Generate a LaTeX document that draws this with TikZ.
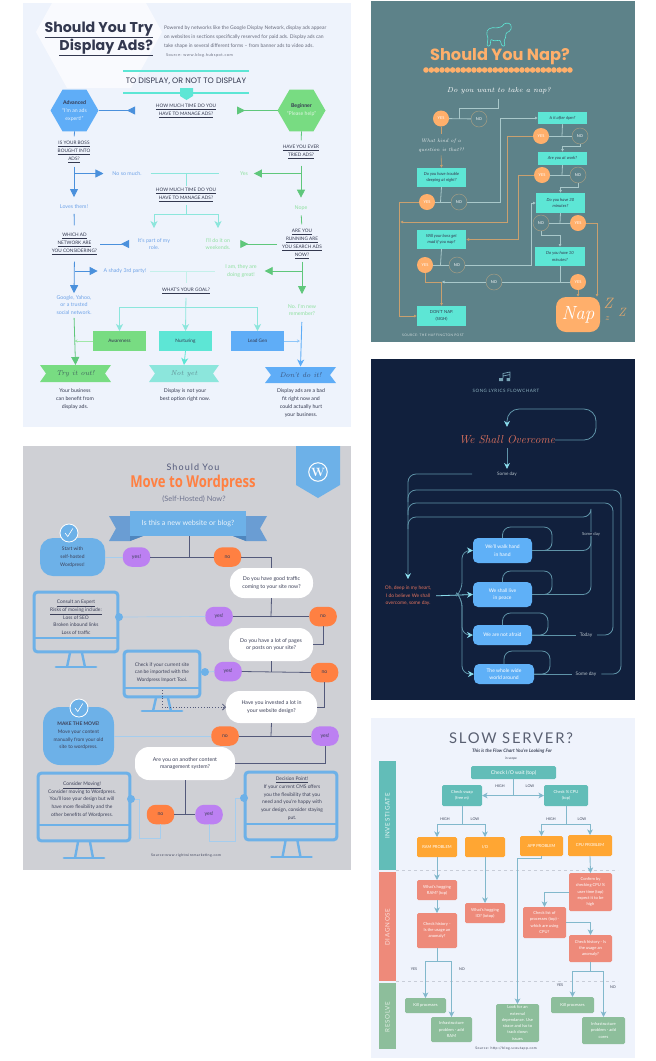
\documentclass[tikz,border=0pt]{standalone}
\usepackage{fontspec}
\setsansfont{Lato}
\renewcommand{\familydefault}{\sfdefault}
\newfontfamily\pop{Poppins}
\newfontfamily\narrowbold{Open Sans}[FakeStretch=0.8]
\newfontfamily\widefont{Lato}[LetterSpace=12]
\usetikzlibrary{arrows.meta,shapes.geometric}
\newcommand{\fsz}[2]{\fontsize{#1}{#2}\selectfont}
% panel colours
\definecolor{adsbg}{HTML}{EEF3FC}
\definecolor{adshex}{HTML}{F9FAFE}
\definecolor{adsdark}{HTML}{33384F}
\definecolor{adsblue}{HTML}{4A90DC}
\definecolor{adssky}{HTML}{5FADF7}
\definecolor{adstxtb}{HTML}{6FA3E8}
\definecolor{adsgreen}{HTML}{5FC77B}
\definecolor{adslime}{HTML}{78DC82}
\definecolor{adstxtg}{HTML}{8FE0A0}
\definecolor{adsteal}{HTML}{5DE6D5}
\definecolor{adsmint}{HTML}{8CE6DC}
\definecolor{adspale}{HTML}{C4F0EA}
\definecolor{wpbg}{HTML}{CFD0D5}
\definecolor{wpblue}{HTML}{6DB1E8}
\definecolor{wpribbon}{HTML}{6A9DD3}
\definecolor{wpfold}{HTML}{4E86BE}
\definecolor{wpdark}{HTML}{53597A}
\definecolor{wptxt}{HTML}{3C4058}
\definecolor{wporange}{HTML}{FF8042}
\definecolor{wppurple}{HTML}{BC80F2}
\definecolor{wppale}{HTML}{A5CDEE}
\definecolor{napbg}{HTML}{5D8289}
\definecolor{nappeach}{HTML}{FFAF6B}
\definecolor{napteal}{HTML}{5DE6D5}
\definecolor{napline}{HTML}{A9C8CA}
\definecolor{napbrown}{HTML}{C9A06F}
\definecolor{napring}{HTML}{A39C84}
\definecolor{songbg}{HTML}{11203D}
\definecolor{songline}{HTML}{5F93A8}
\definecolor{songtip}{HTML}{8ADCEC}
\definecolor{songred}{HTML}{E2735E}
\definecolor{songsky}{HTML}{5FB0F7}
\definecolor{songtxt}{HTML}{B8C4CC}
\definecolor{srvbg}{HTML}{EFF3FC}
\definecolor{srvteal}{HTML}{62BDB8}
\definecolor{srvsalmon}{HTML}{EE8A7A}
\definecolor{srvgreen}{HTML}{8DBE9B}
\definecolor{srvorange}{HTML}{FFA633}
\definecolor{srvline}{HTML}{82B8CC}
\definecolor{srvdash}{HTML}{C8CDD8}
\definecolor{srvtxt}{HTML}{3C4358}
\tikzset{
  wh/.style 2 args={minimum width=#1,minimum height=#2},
  % display ads
  adsq/.style={text=adsdark,font=\fsz{4.7}{7.9}},
  adsb/.style={text=adstxtb,font=\fsz{5.3}{7.9}},
  adsg/.style={text=adstxtg,font=\fsz{5.3}{7.9}},
  adsd/.style={text=adsdark,font=\fsz{5.2}{7.9}},
  bluetri/.style={adsblue,line width=.8pt,-{Triangle[length=8pt,width=8pt]}},
  greentri/.style={adsgreen,line width=.8pt,-{Triangle[length=8pt,width=8pt]}},
  backblue/.style={adsblue,line width=.8pt,-{Triangle[reversed,length=8pt,width=8pt]}},
  backgreen/.style={adsgreen,line width=.8pt,-{Triangle[reversed,length=8pt,width=8pt]}},
  mintarrow/.style={adsmint,line width=.8pt,-{Stealth[length=7pt,width=7pt,inset=2pt]}},
  goalbox/.style={wh={53}{20},text=adsdark,font=\fsz{4.7}{6}},
  bannertxt/.style={wh={71}{17},font=\rmfamily\itshape\fsz{7}{8}},
  % wordpress
  wpq/.style={text=wptxt,font=\fsz{4.9}{7.7}},
  askpill/.style={fill=white,rounded corners=14pt,text=wptxt,font=\fsz{5.3}{7.8}},
  pillno/.style={fill=wporange,rounded corners=9pt,wh={27.5}{19.5},text=wptxt,font=\fsz{5.2}{6}},
  pillyes/.style={fill=wppurple,rounded corners=9pt,wh={27.5}{19.5},text=wptxt,font=\fsz{5.2}{6}},
  wpbub/.style={fill=wpblue,text=wptxt,font=\fsz{4.9}{7.7}},
  wpdot/.style={circle,fill=wpblue,minimum size=8pt},
  wpcheck/.style={circle,fill=wpblue,draw=white,line width=.8pt,minimum size=18pt},
  wpdk/.style={wpdark,line width=.8pt},
  wppl/.style={wppale,line width=.7pt},
  % nap
  napb/.style={fill=napteal,text=adsdark,font=\itshape\fsz{4.2}{6.5}},
  napyes/.style={circle,fill=nappeach,minimum size=16pt,text=white,font=\fsz{3.9}{5}},
  napno/.style={circle,draw=napring,line width=.5pt,minimum size=16pt,text=white,font=\fsz{3.9}{5}},
  napw/.style={napline,line width=.8pt},
  napo/.style={napbrown,line width=.6pt},
  naptip/.style={-{Latex[length=3pt,width=3pt]}},
  % song
  songbox/.style={fill=songsky,rounded corners=5pt,text=white,font=\fsz{5}{7.5}},
  songl/.style={songline,line width=.8pt,rounded corners=8pt},
  songtipd/.style={-{Stealth[length=6pt,width=6pt,inset=2pt,color=songtip]}},
  % server
  srvb/.style={rounded corners=1.5pt,text=white,font=\fsz{4.1}{6.3}},
  srvl/.style={srvline,line width=.9pt},
  srvarrow/.style={srvline,line width=.9pt,-{Stealth[length=5.5pt,width=5.5pt,inset=1.5pt]}},
  srvhl/.style={text=srvtxt,font=\fsz{3.7}{5}},
}
% notched banner, corners then colour
\newcommand{\notchbar}[5]{\fill[#5] (#1,#2) -- (#3,#2) -- ({#3-6},{(#2+#4)/2}) -- (#3,#4) -- (#1,#4) -- ({#1+6},{(#2+#4)/2}) -- cycle;}
% monitor outline, left top right bottom divider standcentre baseline
\newcommand{\monitor}[7]{
  \draw[wpblue,line width=3pt,rounded corners=3pt] ({#1+1.2},{#2+1.2}) rectangle ({#3-1.2},{#4-1.2});
  \draw[wpblue,line width=2.2pt] (#1,#5) -- (#3,#5);
  \draw[wpblue,line width=2.4pt] ({#6-6},#4) -- ({#6-9},#7) ({#6+6},#4) -- ({#6+9},#7);
  \draw[wpblue,line width=2.8pt,line cap=round] ({#6-20},#7) -- ({#6+20},#7);
}
\begin{document}
\begin{tikzpicture}[x=1pt,y=-1pt,every node/.style={inner sep=0pt,outer sep=0pt,align=center}]
  \useasboundingbox (0,0) rectangle (656,1061);

  % ---- Display ads ----
  \fill[adsbg] (23,3) rectangle (351,427);
  \fill[adshex] (52,3) -- (36,32) -- (67,88) -- (131,88) -- (162,32) -- (146,3) -- cycle;
  \node[anchor=east,align=right,text=adsdark,font=\pop\bfseries\fsz{14.2}{18}] (adstitle) at (153,39)
    {\underline{Should You Try}\\\underline{Display Ads?}};
  \node[anchor=west,align=left,text=adsdark!75,font=\fsz{5}{9.1}] (adsintro) at (164,37)
    {Powered by networks like the Google Display Network, display ads appear\\
     on websites in sections specifically reserved for paid ads. Display ads can\\
     take shape in several different forms -- from banner ads to video ads.};
  \node[anchor=west,text=adsdark!75,font=\widefont\fsz{3.9}{5}] (adssource) at (166,55) {Source: www.blog.hubspot.com};
  \draw[adsteal,line width=1.6pt] (123,71) -- (249,71) (123,93) -- (249,93);
  \node[text=adsdark,font=\pop\fsz{7.9}{9}] (adshead) at (186,81) {TO DISPLAY, OR NOT TO DISPLAY};
  \fill[adsteal] (180,88) -- (193,88) -- (193,96) -- (186.5,100) -- (180,96) -- cycle;
  \node[adsq] (adsq1) at (186,111) {\underline{HOW MUCH TIME DO YOU}\\\underline{HAVE TO MANAGE ADS?}};

  \node[regular polygon,regular polygon sides=6,fill=adssky,minimum size=48pt] (hexadv) at (74.5,110.5) {};
  \node[font=\fsz{5.2}{8}] (advtxt) at (74.5,111) {\textcolor{adsdark}{\textbf{Advanced}}\\\textcolor{white!85!adssky}{``I'm an ads}\\\textcolor{white!85!adssky}{expert!''}};
  \node[regular polygon,regular polygon sides=6,fill=adslime,minimum size=48pt] (hexbeg) at (301.5,110.5) {};
  \node[font=\fsz{5.2}{8}] (begtxt) at (301.5,110.5) {\textcolor{adsdark}{\textbf{Beginner}}\\\textcolor{white!75!adslime}{``Please help''}};
  \draw[backblue] (hexadv.east) -- (135,110.5);
  \draw[backgreen] (hexbeg.west) -- (237,110.5);

  % left and right columns
  \node[adsq] (qboss) at (74,152) {\underline{IS YOUR BOSS}\\\underline{BOUGHT INTO}\\\underline{ADS?}};
  \node[adsq] (qever) at (301,152) {\underline{HAVE YOU EVER}\\\underline{TRIED ADS?}};
  \node[adsb] (nosomuch) at (127,173.5) {No so much.};
  \node[adsg] (adsyes) at (244,173.5) {Yes};
  \node[adsq] (qtime) at (186,195) {\underline{HOW MUCH TIME DO YOU}\\\underline{HAVE TO MANAGE ADS?}};
  \node[adsb] (loves) at (74,207) {Loves them!};
  \node[adsg] (nope) at (301,208) {Nope};
  \node[adsq] (qnet) at (74.5,244) {\underline{WHICH AD}\\\underline{NETWORK ARE}\\\underline{YOU CONSIDERING?}};
  \node[adsb] (itspart) at (154,244) {It's part of my\\role.};
  \node[adsg] (weekends) at (218,244) {I'll do it on\\weekends.};
  \node[adsq] (qrun) at (302,244) {\underline{ARE YOU}\\\underline{RUNNING ARE}\\\underline{YOU SEARCH ADS}\\\underline{NOW?}};
  \node[adsb] (shady) at (125,271) {A shady 3rd party!};
  \node[adsg] (great) at (241,271) {I am, they are\\doing great!};
  \node[adsq] (qgoal) at (186,291) {\underline{WHAT'S YOUR GOAL?}};
  \node[adsb] (google) at (74,305) {Google, Yahoo,\\or a trusted\\social network.};
  \node[adsg] (remember) at (302,310) {No. I'm new\\remember?};
  \node[goalbox,fill=adslime] (aware) at (119.5,341) {Awareness};
  \node[goalbox,fill=adsteal] (nurture) at (185.5,341) {Nurturing};
  \node[goalbox,fill=adssky] (leadgen) at (257.5,341) {Lead Gen};
  \notchbar{40}{365}{111}{382}{adslime}
  \notchbar{149}{365}{219}{382}{adsmint}
  \notchbar{265}{367}{336}{383}{adssky}
  \node[bannertxt,text=adsdark!70!adsgreen] (tryout) at (75.5,373.5) {Try it out!};
  \node[bannertxt,text=adsdark!50!adsmint,wh={70}{17}] (notyet) at (184,373.5) {Not yet};
  \node[bannertxt,text=adsdark!70!adsblue] (dontdo) at (300.5,375) {Don't do it!};
  \node[adsd] (res1) at (75,399) {Your business\\can benefit from\\display ads.};
  \node[adsd] (res2) at (185,395) {Display is not your\\best option right now.};
  \node[adsd] (res3) at (301,403) {Display ads are a bad\\fit right now and\\could actually hurt\\your business.};

  % connectors
  \coordinate (bossfork) at (74,173.5);
  \coordinate (everfork) at (301,173.5);
  \coordinate (timefork) at (186,173.5);
  \coordinate (splitfork) at (186,214.5);
  \coordinate (netfork) at (74.5,271);
  \coordinate (runfork) at (302,271);
  \coordinate (shadyfork) at (186,271);
  \coordinate (goalfork) at (186,307);
  \coordinate (greendrop) at (74.5,341);
  \coordinate (bluedrop) at (300,341);
  \draw[adsblue,line width=.8pt,shorten >=5pt] (hexadv.south) -- (qboss.north);
  \draw[adsgreen,line width=.8pt,shorten >=5pt] (hexbeg.south) -- (qever.north);
  \draw[bluetri,shorten <=4pt,shorten >=8pt] (qboss.south) -- (loves.north);
  \draw[bluetri,shorten >=9pt] (bossfork) -- (nosomuch.west);
  \draw[greentri,shorten <=7pt,shorten >=8pt] (qever.south) -- (nope.north);
  \draw[greentri,shorten >=6pt] (everfork) -- (adsyes.east);
  \draw[adsmint,line width=.8pt,shorten <=9pt,shorten >=21pt] (nosomuch.east) -- (adsyes.west);
  \draw[adsmint,line width=.8pt,shorten >=2pt] (timefork) -- (qtime.north);
  \draw[adsmint,line width=.8pt,shorten <=3pt] (qtime.south) -- (splitfork);
  \draw[mintarrow,shorten >=10pt] (splitfork) -| (itspart.north);
  \draw[mintarrow,shorten >=10pt] (splitfork) -| (weekends.north);
  \draw[adsblue,line width=.8pt,shorten <=5pt,shorten >=8pt] (loves.south) -- (qnet.north);
  \draw[adsgreen,line width=.8pt,shorten <=5pt,shorten >=5pt] (nope.south) -- (qrun.north);
  \draw[backblue,shorten <=3pt,shorten >=9pt] (qnet.east) -- (itspart.west);
  \draw[backgreen,shorten <=5pt,shorten >=10pt] (qrun.west) -- (weekends.east);
  \draw[bluetri,shorten <=7pt,shorten >=2pt] (qnet.south) -- (google.north);
  \draw[bluetri,shorten >=6pt] (netfork) -- (shady.west);
  \draw[greentri,shorten <=3pt,shorten >=10pt] (qrun.south) -- (remember.north);
  \draw[greentri,shorten >=8pt] (runfork) -- (great.east);
  \draw[adspale,line width=.8pt,shorten <=4pt,shorten >=10pt] (shady.east) -- (great.west);
  \draw[adspale,line width=.8pt,shorten >=5pt] (shadyfork) -- (qgoal.north);
  \draw[mintarrow,shorten <=4pt] (qgoal.south) -- (nurture.north);
  \draw[mintarrow] (goalfork) -| (aware.north);
  \draw[mintarrow] (goalfork) -| (leadgen.north);
  \draw[adslime!70!white,line width=.7pt,-{Stealth[length=3pt,width=3pt]}] (aware.west) -- (greendrop);
  \draw[greentri,shorten <=3pt] (google.south) -- (tryout.north);
  \draw[mintarrow,adsteal] (nurture.south) -- (notyet.north);
  \draw[adssky!70!white,line width=.7pt,-{Stealth[length=3pt,width=3pt]}] (leadgen.east) -- (bluedrop);
  \draw[adssky,line width=.9pt,-{Stealth[length=7pt,width=7pt,inset=2pt]},shorten <=6pt] (remember.south) -- (dontdo.north);

  % ---- Should you nap ----
  \fill[napbg] (371,1) rectangle (635,342);
  \draw[napteal,line width=.6pt,rounded corners=1pt] (487,35) .. controls (486,29) and (491,27) .. (497,28)
    .. controls (500,27) and (502,27) .. (503,25) .. controls (506,22) and (512,23) .. (511,28)
    .. controls (511,31) and (508,32) .. (506,33) .. controls (506,37) and (505,39) .. (504,40)
    -- (505,46) -- (502,46) -- (500,40) .. controls (497,41) and (493,41) .. (491,39)
    -- (490,46) -- (487,46) -- (488,38) -- cycle;
  \node[text=nappeach,font=\pop\bfseries\fsz{16.2}{18}] (naptitle) at (500,57) {Should You Nap?};
  \foreach \i in {0,...,27} \fill[nappeach] ({426+\i*5.33},70) circle (2.8pt);
  \node[text=white,font=\rmfamily\itshape\fsz{7.2}{10}] (napask) at (499,91) {Do you want to take a nap?};
  \node[napyes] (yes1) at (441,118.5) {YES};
  \node[napno] (no1) at (479,119) {NO};
  \node[text=white!85!napbg,font=\rmfamily\itshape\fsz{5.1}{9}] (napkind) at (441,145.5) {What kind of a\\question is that?!};
  \node[napb,wh={49}{19}] (trouble) at (441.5,177.5) {Do you have trouble\\sleeping at night?};
  \node[napyes] (yes2) at (427,202) {YES};
  \node[napno] (no2) at (459,202) {NO};
  \node[napb,wh={49}{12.5}] (sixpm) at (562.5,118) {Is it after 6pm?};
  \node[napyes] (yes3) at (541,136) {YES};
  \node[napno] (no3) at (580,136) {NO};
  \node[napb,wh={49}{13}] (atwork) at (562.5,158.5) {Are you at work?};
  \node[napyes] (yes4) at (542,175) {YES};
  \node[napno] (no4) at (578,175) {NO};
  \node[napb,wh={49}{20}] (thirty) at (560.5,203) {Do you have 30\\minutes?};
  \node[napno] (no5) at (541,223) {NO};
  \node[napyes] (yes5) at (578,223) {YES};
  \node[napb,wh={50}{19}] (ten) at (560,256.5) {Do you have 10\\minutes?};
  \node[napb,wh={49}{19}] (boss) at (441.5,239.5) {Will your boss get\\mad if you nap?};
  \node[napyes] (yes6) at (425,265) {YES};
  \node[napno] (no6) at (457,265) {NO};
  \node[napno] (no7) at (494,282) {NO};
  \node[napyes] (yes7) at (578,282) {YES};
  \node[napb,wh={49}{20},font=\fsz{4.2}{6.7}] (dontnap) at (441.5,316) {DON'T NAP.\\(SIGH)};
  \node[fill=nappeach,rounded corners=10pt,wh={44}{35},text=white,font=\rmfamily\itshape\fsz{19}{20}] (napbox) at (578,314.5) {Nap};
  \node[text=napbrown!50!nappeach,font=\rmfamily\itshape\fsz{15}{15}] (zed1) at (608,303) {Z};
  \node[text=napbrown!50!nappeach,font=\rmfamily\itshape\fsz{9}{9}] (zed2) at (607,319) {z};
  \node[text=napbrown!50!nappeach,font=\rmfamily\itshape\fsz{12}{12}] (zed3) at (622,312) {Z};
  \node[text=white!75!napbg,font=\widefont\fsz{3.3}{5}] (napsrc) at (433,335) {SOURCE: THE HUFFINGTON POST};

  \coordinate (napj1) at (459,118.5);
  \coordinate (napj2) at (440.5,202);
  \coordinate (napj3) at (562,136);
  \coordinate (napj4) at (562,175);
  \coordinate (napj5) at (560,223);
  \coordinate (napj6) at (440.5,265);
  \coordinate (napj7) at (441.5,282);
  \coordinate (napj8) at (560,282);
  \coordinate (napc1) at (500,202);
  \coordinate (napc2) at (507,222);
  \coordinate (napc3) at (400,222);
  \coordinate (napc4) at (399,202);
  \coordinate (napc5) at (518,175);
  \coordinate (napc6) at (531,265);
  \draw[napw] (napask.south) ++(-1,5) -- ++(0,9) -| (napj1);
  \draw[napw] (yes1) -- (no1);
  \draw[napo] (yes1.south) -- ++(0,7);
  \draw[napo,naptip,shorten <=3pt] (napkind.south) -- (trouble.north);
  \draw[napw] (trouble.south) -- (napj2);
  \draw[napw] (yes2) -- (no2);
  \draw[napw,naptip] (no2.east) -- (napc1) |- (sixpm.west);
  \draw[napw] (sixpm.south) -- (napj3);
  \draw[napw] (yes3) -- (no3);
  \draw[napo,naptip] (yes3.west) -| (napc2) -- (napc3);
  \draw[napo,naptip] (yes2.west) -- (napc4) |- (dontnap.west);
  \draw[napw,naptip] (no3.south) -- ++(0,2) -| (atwork.north);
  \draw[napw] (atwork.south) -- (napj4);
  \draw[napw] (yes4) -- (no4);
  \draw[napo,naptip] (yes4.west) -- (napc5) |- (boss.east);
  \draw[napw,naptip] (no4.south) -- ++(0,4) -| (thirty.north);
  \draw[napw] (thirty.south) -- (napj5);
  \draw[napw] (no5) -- (yes5);
  \draw[napo,naptip] (yes5.east) -| ([xshift=-3pt]napbox.north east);
  \draw[napw,naptip] (no5.south) -- ++(0,4) -| (ten.north);
  \draw[napw] (boss.south) -- (napj6);
  \draw[napw] (yes6) -- (no6);
  \draw[napw,naptip] (no6.east) -- (napc6) |- (thirty.west);
  \draw[napo] (yes6.south) |- (napj7);
  \draw[napo,naptip] (napj7) -- (dontnap.north);
  \draw[napw] (ten.south) -- (napj8);
  \draw[napw] (yes7.west) -- (no7.east);
  \draw[napw,naptip] (no7.west) -- (napj7);
  \draw[napo,naptip] (yes7.south) -- (napbox.north);

  % ---- Wordpress ----
  \fill[wpbg] (23,446) rectangle (351,870);
  \fill[wpblue] (296,446) -- (340,446) -- (340,485) -- (318,498) -- (296,485) -- cycle;
  \node[circle,draw=white,line width=1pt,minimum size=18.5pt,text=white,font=\rmfamily\bfseries\fsz{12}{12}] (wplogo) at (318,472) {W};
  \node[text=wpdark,font=\widefont\fsz{9}{10}] (wptop) at (193,467) {Should You};
  \node[text=wporange,font=\narrowbold\bfseries\fsz{16.4}{18}] (wptitle) at (193,483) {Move to Wordpress};
  \node[text=wpdark!85,font=\fsz{7.4}{9}] (wpsub) at (194,499) {(Self-Hosted) Now?};
  \fill[wpribbon] (109,516) -- (143,516) -- (143,536) -- (130,541) -- (109,541) -- (116,528.5) -- cycle;
  \fill[wpribbon] (267,516) -- (233,516) -- (233,536) -- (246,541) -- (267,541) -- (260,528.5) -- cycle;
  \fill[wpfold] (130,536) -- (143,536) -- (130,541) -- cycle;
  \fill[wpfold] (246,536) -- (233,536) -- (246,541) -- cycle;
  \node[fill=wpblue,wh={116}{25},text=white!85!wpblue,font=\fsz{7.2}{9}] (wpnew) at (188,523.5) {Is this a new website or blog?};

  \node[wpbub,rounded corners=13pt,wh={65}{38}] (wpstart) at (72.5,557) {Start with\\self-hosted\\Wordpress!};
  \node[wpcheck] (chk1) at (69,533) {};
  \draw[white,line width=.6pt] (chk1.center) ++(-4,0) -- ++(2.8,3.5) -- ++(5,-8);
  \node[pillyes] (wpy1) at (136.5,557) {yes!};
  \node[pillno] (wpn1) at (227.5,557) {no};
  \node[askpill,wh={83}{30}] (ask1) at (271.5,583) {Do you have good traffic\\coming to your site now?};
  \node[pillyes] (wpy2) at (219,616.5) {yes!};
  \node[pillno] (wpn2) at (323,616.5) {no};
  \node[askpill,wh={84}{33}] (ask2) at (271,644.5) {Do you have a lot of pages\\or posts on your site?};
  \node[pillyes] (wpy3) at (228,671.5) {yes!};
  \node[pillno] (wpn3) at (324.5,672.5) {no};
  \node[askpill,wh={91}{32}] (ask3) at (271.5,707) {Have you invested a lot in\\your website design?};
  \node[pillno] (wpn4) at (225,736) {no};
  \node[pillyes] (wpy4) at (325,736) {yes!};
  \node[askpill,wh={100}{33}] (ask4) at (185,763.5) {Are you on another content\\management system?};
  \node[pillno] (wpn5) at (160.5,814.5) {no};
  \node[pillyes] (wpy5) at (209,814.5) {yes!};
  \node[wpbub,rounded corners=17pt,wh={71}{58}] (wpmove) at (78.5,736) {\textbf{MAKE THE MOVE!}\\Move your content\\manually from your old\\site to  wordpress.};
  \node[wpcheck] (chk2) at (79,708) {};
  \draw[white,line width=.6pt] (chk2.center) ++(-4,0) -- ++(2.8,3.5) -- ++(5,-8);

  \monitor{33}{591}{119}{653}{638}{76}{667}
  \monitor{123}{650}{201}{698}{688}{162}{711}
  \monitor{37}{772}{131}{842}{825}{84}{858}
  \monitor{244}{771}{338}{841}{824}{291.5}{857}
  \node[wpq] (mon1) at (76,617.5) {\underline{Consult an Expert}\\\underline{Risks of moving include:}\\Loss of SEO\\Broken inbound links\\Loss of traffic};
  \node[wpq] (mon2) at (162,672.5) {Check if your current site\\can be imported with the\\Wordpress Import Tool.};
  \node[wpq] (mon3) at (82,799.5) {\underline{Consider Moving!}\\Consider moving to Wordpress.\\You'll lose your design but will\\have more flexibility  and the\\other benefits of Wordpress.};
  \node[wpq] (mon4) at (292,798.5) {\underline{Decision Point!}\\If your current CMS offers\\you the flexibility that you\\need and you're happy with\\your design, consider staying\\put.};
  \node[wpdot] (dot1) at (119,617) {};
  \node[wpdot] (dot2) at (205,672) {};
  \node[wpdot] (dot3) at (131,799) {};
  \node[wpdot] (dot4) at (244,798) {};
  \node[text=wptxt,font=\widefont\fsz{3.5}{5}] (wpsrc) at (186,856) {Source:www.rightwiremarketing.com};

  \coordinate (wpj1) at (189,557);
  \coordinate (wpj2) at (271,617);
  \coordinate (wpj3) at (271,672);
  \coordinate (wpj4) at (271,736);
  \coordinate (wpj5) at (185,814.5);
  \coordinate (wpdash) at (162,690);
  \draw[wppl] (wpstart.east) -- (wpy1.west);
  \draw[wpdk] (wpy1.east) -- (wpn1.west);
  \draw[wpdk] (wpnew.south -| wpj1) -- (wpj1);
  \draw[wpdk] (wpn1.east) -| (ask1.north);
  \draw[wpdk] (ask1.south) -- (wpj2);
  \draw[wpdk] (wpy2.east) -- (wpn2.west);
  \draw[wppl] (dot1) -- (wpy2.west);
  \draw[wpdk] (wpn2.south) |- (ask2.east);
  \draw[wpdk] (ask2.south) -- (wpj3);
  \draw[wpdk] (wpy3.east) -- (wpn3.west);
  \draw[wppl] (dot2) -- (wpy3.west);
  \draw[wpdk] (wpn3.south) |- (ask3.east);
  \draw[wpdk,dotted,-{Straight Barb[length=3pt]}] (wpdash) |- (ask3.west);
  \draw[wpdk] (ask3.south) -- (wpj4);
  \draw[wpdk] (wpn4.east) -- (wpy4.west);
  \draw[wppl] (wpmove.east) -- (wpn4.west);
  \draw[wpdk] (wpy4.south) |- (ask4.east);
  \draw[wpdk] (ask4.south) -- (wpj5);
  \draw[wpdk] (wpn5.east) -- (wpy5.west);
  \draw[wppl] (dot3) -| ++(8,39) -| (wpn5.south);
  \draw[wppl] (dot4) -| ++(-9,43) -| (wpy5.south);

  % ---- Song lyrics ----
  \fill[songbg] (371,359) rectangle (635,700);
  \fill[songline!85!white] (499,378) rectangle (503,381) (506.5,378) rectangle (510,381);
  \draw[songline!85!white,line width=.7pt] (503,378) -- (503,373.5) -- (510,372) -- (510,378) (503,376) -- (510,374.5);
  \node[text=songline!70!white,font=\widefont\fsz{4.5}{5}] (songhead) at (506,391) {SONG LYRICS FLOWCHART};
  \node[text=songred,font=\rmfamily\itshape\fsz{11.5}{12}] (wso) at (507,440) {We Shall Overcome};
  \node[text=songtxt,font=\fsz{4.6}{6}] (someday) at (507,474) {Some day};
  \node[text=songred,font=\fsz{4.9}{7.6}] (deep) at (408,596) {Oh, deep in my heart,\\I do believe We shall\\overcome, some day.};
  \node[songbox,wh={59}{25}] (walk) at (502.5,550.5) {We'll walk hand\\in hand};
  \node[songbox,wh={59}{25}] (peace) at (502.5,594.5) {We shall live\\in peace};
  \node[songbox,wh={59}{20}] (afraid) at (502.5,635) {We are not afraid};
  \node[songbox,wh={60}{20}] (world) at (504,674) {The whole wide\\world around};
  \node[text=songtxt,font=\fsz{4.2}{6}] (dayone) at (591,534) {Some day};
  \node[text=songtxt,font=\fsz{4.8}{6}] (today) at (586,635) {Today};
  \node[text=songtxt,font=\fsz{4.8}{6}] (daytwo) at (586,674) {Some day};

  \coordinate (songr) at (596,409);
  \coordinate (outer1) at (621,490);
  \coordinate (outer2) at (613,503);
  \coordinate (outer3) at (591,517);
  \coordinate (merge1) at (408,502);
  \coordinate (merge2) at (408,515);
  \coordinate (merge3) at (408,529);
  \coordinate (loop1) at (552,527);
  \coordinate (loop2) at (552,571);
  \coordinate (loop3) at (548,613);
  \coordinate (loop4) at (550,651);
  \coordinate (songfork) at (458,594.5);
  \draw[songl,songtipd,rounded corners=12pt,shorten >=9pt] (wso.east) -| (songr) -| (wso.north);
  \draw[songl,songtipd,shorten <=4pt,shorten >=3pt] (wso.south) -- (someday.north);
  \draw[songl,songtipd,shorten <=25pt,shorten >=7pt] (someday.west) -| (deep.north);
  \draw[songl,shorten <=5pt] (daytwo.east) -| (outer1) -| (merge1);
  \draw[songl,shorten <=5pt] (today.east) -| (outer2) -| (merge2);
  \draw[songl] (dayone.north) |- (outer3) -| (merge3);
  \draw[songl] (dayone.south) |- (walk.east);
  \draw[songl] (dayone.south) |- (peace.east);
  \draw[songl] (walk.north) |- (loop1) |- (walk.east);
  \draw[songl] (peace.north) |- (loop2) |- (peace.east);
  \draw[songl] (afraid.north) |- (loop3) |- (afraid.east);
  \draw[songl] (world.north) |- (loop4) |- (world.east);
  \draw[songl,shorten >=4pt] (afraid.east) -- (today.west);
  \draw[songl,shorten >=4pt] (world.east) -- (daytwo.west);
  \draw[songtip,line width=.8pt,shorten <=5pt,-{Stealth[length=6pt,width=6pt,inset=2pt]}] (deep.east) -- (peace.west);
  \draw[songl,songtipd] (songfork) -- ++(4,-4) |- (walk.west);
  \draw[songl,songtipd] (songfork) -- ++(4,4) |- (afraid.west);
  \draw[songl,songtipd] (songfork) -- ++(4,4) |- (world.west);

  % ---- Slow server ----
  \fill[srvbg] (371,718) rectangle (635,1058);
  \node[text=srvtxt!85,font=\widefont\fsz{14.8}{18}] (srvtitle) at (511,738) {SLOW  SERVER?};
  \node[text=srvtxt,font=\itshape\bfseries\fsz{4.7}{6}] (srvsub) at (512,751) {This is the Flow Chart You're Looking For};
  \node[text=srvtxt,font=\fsz{3.3}{4}] (srvscope) at (511,759) {in scope};
  \fill[srvteal] (379,761) rectangle (396,870);
  \fill[srvsalmon] (379,872) rectangle (396,981);
  \fill[srvgreen] (379,983) rectangle (396,1049);
  \node[rotate=90,text=white!85!srvteal,font=\widefont\fsz{6.2}{8}] (lblinv) at (387.5,816) {INVESTIGATE};
  \node[rotate=90,text=white!75!srvsalmon,font=\widefont\fsz{6.2}{8}] (lbldiag) at (387.5,927) {DIAGNOSE};
  \node[rotate=90,text=white!75!srvgreen,font=\widefont\fsz{6.2}{8}] (lblres) at (387.5,1017) {RESOLVE};
  \draw[srvdash,dashed,line width=.6pt] (396,870) -- (618,870) (396,981) -- (618,981);

  \node[srvb,fill=srvteal,wh={85}{13},font=\fsz{5.1}{6}] (iowait) at (513.5,772.5) {Check I/O wait (top)};
  \node[srvb,fill=srvteal,wh={40}{21}] (swap) at (462,795.5) {Check swap\\(free m)};
  \node[srvb,fill=srvteal,wh={44}{21}] (pcpu) at (566,795.5) {Check \% CPU\\(top)};
  \node[srvhl] (h1) at (500,786) {HIGH};
  \node[srvhl] (l1) at (530,786) {LOW};
  \node[srvhl] (h2) at (445,819) {HIGH};
  \node[srvhl] (l2) at (475,819) {LOW};
  \node[srvhl] (h3) at (551,819) {HIGH};
  \node[srvhl] (l3) at (582,819) {LOW};
  \node[srvb,fill=srvorange,wh={40}{20}] (ramp) at (437,847) {RAM PROBLEM};
  \node[srvb,fill=srvorange,wh={40}{20}] (iop) at (485,847) {I/O};
  \node[srvb,fill=srvorange,wh={43}{20}] (appp) at (541.5,846) {APP PROBLEM};
  \node[srvb,fill=srvorange,wh={44}{21}] (cpup) at (590,845.5) {CPU PROBLEM};
  \node[srvb,fill=srvsalmon,wh={40}{20}] (hogram) at (437,890) {What's hogging\\RAM? (top)};
  \node[srvb,fill=srvsalmon,wh={40}{35}] (histram) at (437,930.5) {Check history -\\Is the usage an\\anomaly?};
  \node[srvb,fill=srvsalmon,wh={40}{20}] (hogio) at (485,913) {What's hogging\\IO? (iotop)};
  \node[srvb,fill=srvsalmon,wh={43}{38}] (confirm) at (590.5,892) {Confirm by\\checking CPU \%\\user time (top)\\expect it to be\\high};
  \node[srvb,fill=srvsalmon,wh={43}{31}] (plist) at (544.5,922.5) {Check list of\\processes (top) -\\which are using\\CPU?};
  \node[srvb,fill=srvsalmon,wh={43}{27}] (histcpu) at (590.5,948.5) {Check history - Is\\the usage an\\anomaly?};
  \node[srvb,fill=srvgreen,wh={41}{15}] (killa) at (425.5,1005.5) {Kill processes};
  \node[srvb,fill=srvgreen,wh={41}{25}] (infraa) at (451.5,1029.5) {Infrastructure\\problem - add\\RAM};
  \node[srvb,fill=srvgreen,wh={43}{38}] (extern) at (517.5,1023) {Look for an\\external\\dependance. Use\\strace and lso to\\track down\\issues};
  \node[srvb,fill=srvgreen,wh={43}{16}] (killb) at (572.5,1005) {Kill processes};
  \node[srvb,fill=srvgreen,wh={43}{27}] (infrab) at (603.5,1030.5) {Infrastructure\\problem - add\\cores};
  \node[srvhl] (y1) at (414,969) {YES};
  \node[srvhl] (n1) at (462,969) {NO};
  \node[srvhl] (y2) at (560,985) {YES};
  \node[srvhl] (n2) at (613,987) {NO};
  \node[text=srvtxt,font=\widefont\fsz{3.4}{5}] (srvsrc) at (506,1049) {Source: http://blog.scoutapp.com};

  \coordinate (srvj1) at (513.5,795.5);
  \coordinate (srvj2) at (462,824);
  \coordinate (srvj3) at (566,824);
  \coordinate (srvj4) at (437,961);
  \coordinate (srvj5) at (590.5,971);
  \draw[srvl] (iowait.south) -- (srvj1);
  \draw[srvarrow] (srvj1) -- (swap.east);
  \draw[srvarrow] (srvj1) -- (pcpu.west);
  \draw[srvl] (swap.south) -- (srvj2);
  \draw[srvarrow] (srvj2) -| (ramp.north);
  \draw[srvarrow] (srvj2) -| (iop.north);
  \draw[srvl] (pcpu.south) -- (srvj3);
  \draw[srvarrow] (srvj3) -| (appp.north);
  \draw[srvarrow] (srvj3) -| (cpup.north);
  \draw[srvarrow] (ramp.south) -- (hogram.north);
  \draw[srvarrow] (hogram.south) -- (histram.north);
  \draw[srvl] (histram.south) -- (srvj4);
  \draw[srvarrow] (srvj4) -| (killa.north);
  \draw[srvarrow] (srvj4) -| (infraa.north);
  \draw[srvarrow] (iop.south) -- (hogio.north);
  \draw[srvarrow] (appp.south) -- ++(0,2) -| (extern.north);
  \draw[srvarrow] (cpup.south) -- (confirm.north);
  \draw[srvarrow] (confirm.west) -| (plist.north);
  \draw[srvarrow] (plist.east) -| (histcpu.north);
  \draw[srvl] (histcpu.south) -- (srvj5);
  \draw[srvarrow] (srvj5) -| (killb.north);
  \draw[srvarrow] (srvj5) -| (infrab.north);
\end{tikzpicture}
\end{document}
